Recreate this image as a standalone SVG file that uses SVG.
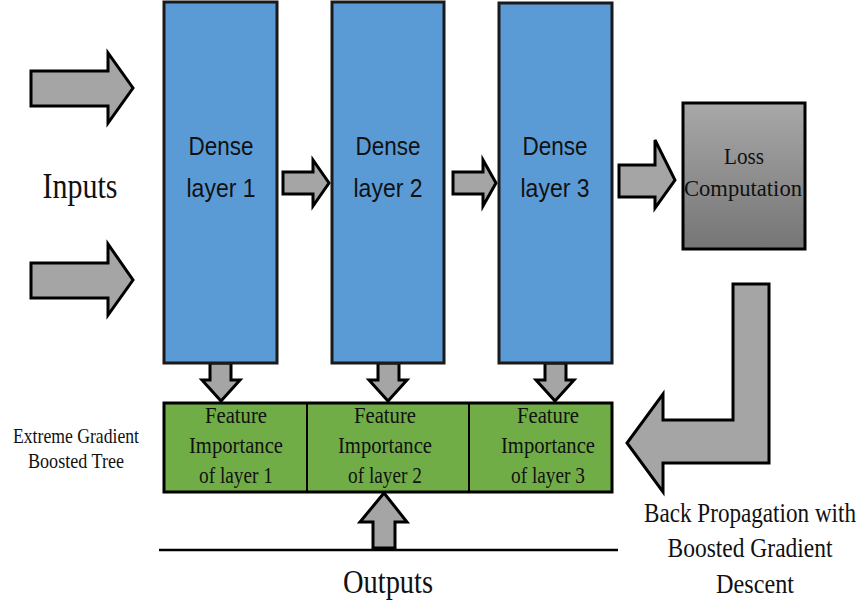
<svg xmlns="http://www.w3.org/2000/svg" width="867" height="609" viewBox="0 0 867 609">
<style>
.layer{fill:#5b9bd5;stroke:#1a1a1a;stroke-width:3}
.arrow{fill:#a5a5a5;stroke:#000;stroke-width:3;stroke-linejoin:miter}
.fi{fill:#70ad47;stroke:#000;stroke-width:3}
.sans{font-family:"Liberation Sans","Open Sans",sans-serif;fill:#111;text-anchor:middle}
.serif{font-family:"Liberation Serif","Times New Roman",serif;fill:#111;text-anchor:middle}
</style>
<defs>
<linearGradient id="lossGrad" x1="0" y1="0" x2="0" y2="1">
<stop offset="0" stop-color="#a8a8a8"/>
<stop offset="1" stop-color="#757575"/>
</linearGradient>
</defs>
<rect width="867" height="609" fill="#fff"/>

<g id="inputs">
<text class="serif" x="80" y="198" font-size="36" textLength="75" lengthAdjust="spacingAndGlyphs">Inputs</text>
</g>

<g id="connectors">
<polygon class="arrow" points="31,71 108,71 108,53 133,88 108,123 108,106 31,106"/>
<polygon class="arrow" points="31,263 108,263 108,244 133,280 108,315 108,298 31,298"/>
<polygon class="arrow" points="283,172 313,172 313,160 329,183 313,206 313,194 283,194"/>
<polygon class="arrow" points="453,172 483,172 483,160 496,183 483,206 483,194 453,194"/>
<polygon class="arrow" points="619,165 655,165 655,140 675,180 655,208 655,197 619,197"/>
<polygon class="arrow" points="210,363 231,363 231,380 240,380 221,401 202,380 210,380"/>
<polygon class="arrow" points="378,363 399,363 399,380 407,380 388,401 369,380 378,380"/>
<polygon class="arrow" points="545,363 566,363 566,380 574,380 555,401 536,380 545,380"/>
<polygon class="arrow" points="373,548 395,548 395,522 407,522 384,493 360,522 373,522"/>
<polygon class="arrow" points="733,284 769,284 769,463 663,463 663,492 627,443 663,394 663,420 733,420"/>
</g>

<g id="layer1">
<rect class="layer" x="164" y="2" width="113" height="361"/>
<text class="sans" x="221" y="155" font-size="25" textLength="65" lengthAdjust="spacingAndGlyphs">Dense</text>
<text class="sans" x="221" y="197" font-size="25" textLength="69" lengthAdjust="spacingAndGlyphs">layer 1</text>
</g>
<g id="layer2">
<rect class="layer" x="332" y="2" width="112" height="361"/>
<text class="sans" x="388" y="155" font-size="25" textLength="65" lengthAdjust="spacingAndGlyphs">Dense</text>
<text class="sans" x="388" y="197" font-size="25" textLength="69" lengthAdjust="spacingAndGlyphs">layer 2</text>
</g>
<g id="layer3">
<rect class="layer" x="499" y="3" width="113" height="360"/>
<text class="sans" x="555" y="155" font-size="25" textLength="65" lengthAdjust="spacingAndGlyphs">Dense</text>
<text class="sans" x="555" y="197" font-size="25" textLength="69" lengthAdjust="spacingAndGlyphs">layer 3</text>
</g>

<g id="loss">
<rect x="683" y="103" width="122" height="146" fill="url(#lossGrad)" stroke="#000" stroke-width="3"/>
<text class="serif" x="744" y="164" font-size="23" textLength="40" lengthAdjust="spacingAndGlyphs">Loss</text>
<text class="serif" x="743" y="196" font-size="23" textLength="118" lengthAdjust="spacingAndGlyphs">Computation</text>
</g>

<g id="feature-importance">
<rect class="fi" x="164" y="403" width="448" height="89"/>
<line x1="307" y1="403" x2="307" y2="492" stroke="#000" stroke-width="2"/>
<line x1="469" y1="403" x2="469" y2="492" stroke="#000" stroke-width="2"/>
<text class="serif" x="236" y="423" font-size="23" textLength="62" lengthAdjust="spacingAndGlyphs">Feature</text>
<text class="serif" x="236" y="453" font-size="23" textLength="94" lengthAdjust="spacingAndGlyphs">Importance</text>
<text class="serif" x="236" y="483" font-size="23" textLength="74" lengthAdjust="spacingAndGlyphs">of layer 1</text>
<text class="serif" x="385" y="423" font-size="23" textLength="62" lengthAdjust="spacingAndGlyphs">Feature</text>
<text class="serif" x="385" y="453" font-size="23" textLength="94" lengthAdjust="spacingAndGlyphs">Importance</text>
<text class="serif" x="385" y="483" font-size="23" textLength="74" lengthAdjust="spacingAndGlyphs">of layer 2</text>
<text class="serif" x="548" y="423" font-size="23" textLength="62" lengthAdjust="spacingAndGlyphs">Feature</text>
<text class="serif" x="548" y="453" font-size="23" textLength="94" lengthAdjust="spacingAndGlyphs">Importance</text>
<text class="serif" x="548" y="483" font-size="23" textLength="74" lengthAdjust="spacingAndGlyphs">of layer 3</text>
</g>

<g id="xgb-label">
<text class="serif" x="76" y="443" font-size="21" textLength="126" lengthAdjust="spacingAndGlyphs">Extreme Gradient</text>
<text class="serif" x="76" y="468" font-size="21" textLength="96" lengthAdjust="spacingAndGlyphs">Boosted Tree</text>
</g>

<g id="outputs">
<line x1="159" y1="550" x2="618" y2="550" stroke="#000" stroke-width="2.5"/>
<text class="serif" x="388" y="593" font-size="33" textLength="90" lengthAdjust="spacingAndGlyphs">Outputs</text>
</g>

<g id="backprop-label">
<text class="serif" transform="translate(750,522) scale(1,1.15)" x="0" y="0" font-size="23" textLength="212" lengthAdjust="spacingAndGlyphs">Back Propagation with</text>
<text class="serif" transform="translate(750,557) scale(1,1.15)" x="0" y="0" font-size="23" textLength="165" lengthAdjust="spacingAndGlyphs">Boosted Gradient</text>
<text class="serif" transform="translate(755,593) scale(1,1.15)" x="0" y="0" font-size="23" textLength="78" lengthAdjust="spacingAndGlyphs">Descent</text>
</g>
</svg>
